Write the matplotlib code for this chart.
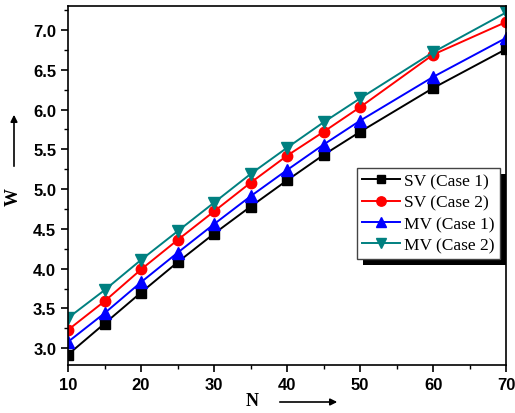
import matplotlib.pyplot as plt
from matplotlib.ticker import MultipleLocator
import matplotlib.patheffects as pe

# N values and W for each scheme
n_vals = [10, 15, 20, 25, 30, 35, 40, 45, 50, 60, 70]
sv_case1 = [2.92, 3.31, 3.70, 4.08, 4.44, 4.78, 5.11, 5.43, 5.72, 6.27, 6.76]
sv_case2 = [3.23, 3.59, 3.99, 4.36, 4.72, 5.08, 5.42, 5.72, 6.03, 6.69, 7.10]
mv_case1 = [3.08, 3.44, 3.83, 4.20, 4.56, 4.91, 5.24, 5.56, 5.86, 6.41, 6.90]
mv_case2 = [3.38, 3.73, 4.11, 4.47, 4.83, 5.19, 5.52, 5.84, 6.14, 6.72, 7.22]
labels = ['SV (Case 1)', 'SV (Case 2)', 'MV (Case 1)', 'MV (Case 2)']

fig = plt.figure(figsize=(5.15, 4.14), dpi=100)
ax = fig.add_axes([0.132, 0.116, 0.851, 0.867])

ax.plot(n_vals, sv_case1, color='black', marker='s', ms=6.5, lw=1.4, label=labels[0])
ax.plot(n_vals, sv_case2, color='red', marker='o', ms=7.5, lw=1.4, label=labels[1])
ax.plot(n_vals, mv_case1, color='blue', marker='^', ms=8, lw=1.4, label=labels[2])
ax.plot(n_vals, mv_case2, color='#008080', marker='v', ms=8, lw=1.4, label=labels[3])

ax.set_xlim(10, 70)
ax.set_ylim(2.79, 7.30)
ax.xaxis.set_major_locator(MultipleLocator(10))
ax.xaxis.set_minor_locator(MultipleLocator(5))
ax.yaxis.set_major_locator(MultipleLocator(0.5))
ax.yaxis.set_minor_locator(MultipleLocator(0.25))
ax.tick_params(which='major', direction='out', length=5, width=1.2)
ax.tick_params(which='minor', direction='out', length=3, width=1.0)
for s in ax.spines.values():
    s.set_linewidth(1.2)
for lbl in ax.get_xticklabels() + ax.get_yticklabels():
    lbl.set_family('Liberation Sans')
    lbl.set_fontweight('bold')
    lbl.set_fontsize(12)

# axis names with arrows
fig.text(13 / 515, 1 - 197 / 414, 'W', rotation=90, ha='center', va='center',
         family='Liberation Serif', fontweight='bold', fontsize=13)
fig.text(252 / 515, 1 - 402 / 414, 'N', ha='center', va='center',
         family='Liberation Serif', fontweight='bold', fontsize=13)
fig.add_artist(plt.Annotation('', xy=(14 / 515, 1 - 113 / 414), xytext=(14 / 515, 1 - 170 / 414),
                              xycoords='figure fraction',
                              arrowprops=dict(arrowstyle='-|>', color='black', lw=1.2, mutation_scale=10)))
fig.add_artist(plt.Annotation('', xy=(340 / 515, 1 - 403 / 414), xytext=(277 / 515, 1 - 403 / 414),
                              xycoords='figure fraction',
                              arrowprops=dict(arrowstyle='-|>', color='black', lw=1.2, mutation_scale=10)))

leg = ax.legend(loc='upper left', bbox_to_anchor=(357 / 515, 1 - 169 / 414), bbox_transform=fig.transFigure,
                prop={'family': 'Liberation Serif', 'size': 12.5}, frameon=True, fancybox=False,
                framealpha=1, edgecolor='#444444', handlelength=2.2, handletextpad=0.2,
                borderpad=0.3, labelspacing=0.3, borderaxespad=0, markerscale=0.9)
frame = leg.get_frame()
frame.set_linewidth(1.0)
frame.set_path_effects([pe.SimplePatchShadow(offset=(4.5, -4.5), shadow_rgbFace='black', alpha=1.0), pe.Normal()])

fig.savefig('out.png', dpi=100)
